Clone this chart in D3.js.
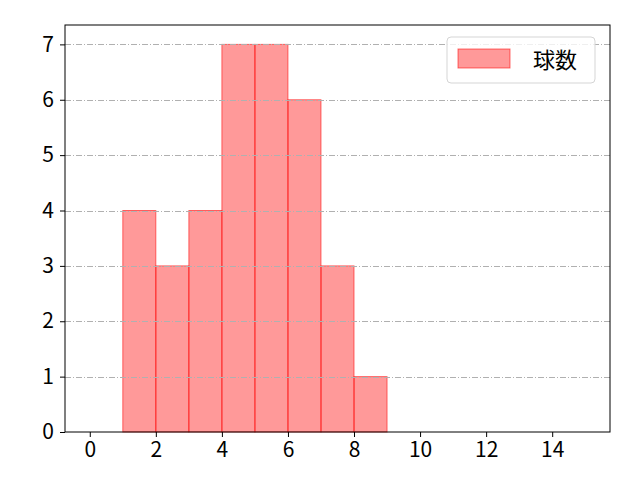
<!DOCTYPE html>
<html lang="ja">
<head>
<meta charset="UTF-8">
<title>球数</title>
<script src="https://d3js.org/d3.v7.min.js"></script>
<style>
    body { margin: 0; background: #fff; }
    svg text { font-family: "Noto Sans CJK JP", "DejaVu Sans", sans-serif; fill: #000; }
    .grid line { stroke: #b0b0b0; stroke-width: 1; stroke-dasharray: 6 2 1 2; }
    .bar { fill: #ff0000; fill-opacity: 0.4; stroke: #ff0000; stroke-opacity: 0.55; stroke-width: 1; }
</style>
</head>
<body>
<svg id="chart" width="640" height="480"></svg>
<script>
    // histogram bins (left edges) and counts
    const binEdges = [0, 1, 2, 3, 4, 5, 6, 7, 8, 9, 10, 11, 12, 13, 14, 15];
    const counts = [0, 4, 3, 4, 7, 7, 6, 3, 1, 0, 0, 0, 0, 0, 0];
    const xTicks = [0, 2, 4, 6, 8, 10, 12, 14];
    const yTicks = [0, 1, 2, 3, 4, 5, 6, 7];
    const legendLabel = "球数";

    const margin = { left: 65, right: 30, top: 25, bottom: 48 };
    const width = 640, height = 480;

    const svg = d3.select("#chart");

    const x = d3.scaleLinear().domain([-0.75, 15.75]).range([margin.left, width - margin.right]);
    const y = d3.scaleLinear().domain([0, 7.35]).range([height - margin.bottom, margin.top]);

    // bars
    svg.append("g").selectAll("rect")
        .data(counts)
        .join("rect")
        .attr("class", "bar")
        .attr("x", (d, i) => x(binEdges[i]))
        .attr("width", (d, i) => x(binEdges[i + 1]) - x(binEdges[i]))
        .attr("y", d => y(d))
        .attr("height", d => y(0) - y(d));

    // horizontal grid on top of bars
    svg.append("g").attr("class", "grid")
        .selectAll("line")
        .data(yTicks.filter(t => t > 0))
        .join("line")
        .attr("x1", x.range()[0]).attr("x2", x.range()[1])
        .attr("y1", d => Math.round(y(d)) + 0.5).attr("y2", d => Math.round(y(d)) + 0.5);

    // axes
    const xAxis = svg.append("g")
        .attr("transform", `translate(0,${y(0)})`)
        .call(d3.axisBottom(x).tickValues(xTicks).tickSize(5).tickPadding(5));
    const yAxis = svg.append("g")
        .attr("transform", `translate(${margin.left},0)`)
        .call(d3.axisLeft(y).tickValues(yTicks).tickSize(5).tickPadding(6));

    [xAxis, yAxis].forEach(a => {
        a.select(".domain").remove();
        a.selectAll("text").style("font-size", "21px");
        a.selectAll(".tick line").attr("stroke", "#000");
    });

    // frame
    svg.append("rect")
        .attr("x", x.range()[0]).attr("y", y.range()[1])
        .attr("width", x.range()[1] - x.range()[0])
        .attr("height", y.range()[0] - y.range()[1])
        .attr("fill", "none").attr("stroke", "#000").attr("stroke-width", 1);

    // legend
    const lg = svg.append("g").attr("transform", "translate(447,37)");
    lg.append("rect")
        .attr("width", 148).attr("height", 46).attr("rx", 4)
        .attr("fill", "#fff").attr("fill-opacity", 0.8)
        .attr("stroke", "#d5d5d5");
    lg.append("rect")
        .attr("class", "bar")
        .attr("x", 11).attr("y", 12).attr("width", 52).attr("height", 19);
    lg.append("text")
        .attr("x", 86).attr("y", 31)
        .style("font-size", "22px")
        .text(legendLabel);
</script>
</body>
</html>
